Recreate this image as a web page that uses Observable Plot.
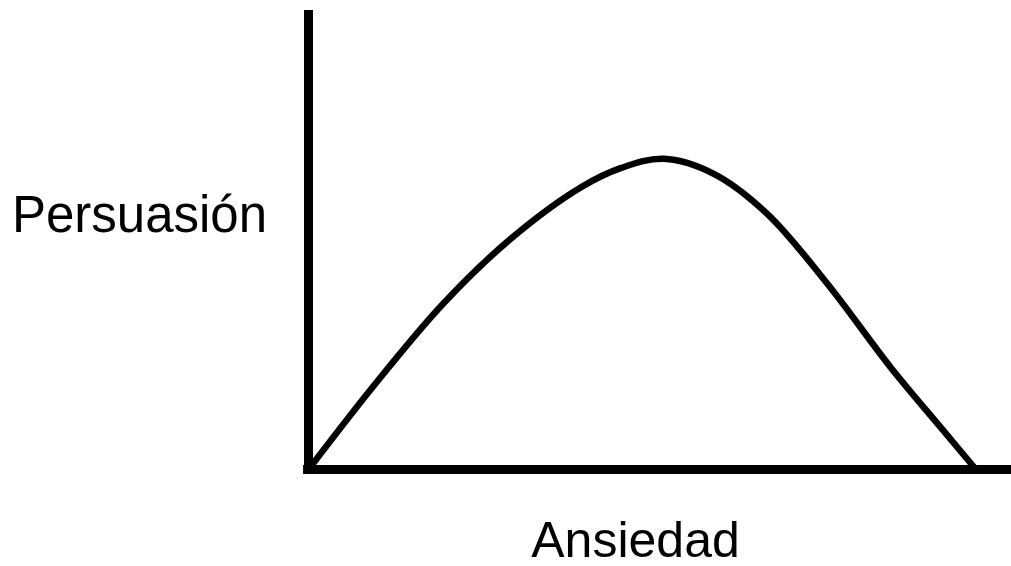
<!DOCTYPE html>
<html>
<head>
<meta charset="utf-8">
<script src="https://cdn.jsdelivr.net/npm/d3@7"></script>
<script src="https://cdn.jsdelivr.net/npm/@observablehq/plot@0.6"></script>
<style>
  html, body { margin: 0; padding: 0; background: #fff; }
  #chart svg { display: block; }
</style>
</head>
<body>
<div id="chart"></div>
<script>
// Ansiedad (x) vs Persuasión (y), 0–100 scale
const ansiedad = [0, 9.77, 19.25, 28.73, 38.71, 44.5, 50.54, 57.65, 65.25, 73.78, 82.79, 89.90, 94.59];
const persuasion = [0, 19.17, 36.27, 50.22, 61.44, 65.7, 67.69, 64.42, 55.71, 40.52, 22.29, 9.22, 0.65];
const xLabel = "Ansiedad";
const yLabel = "Persuasión";

const curve = ansiedad.map((a, i) => ({ansiedad: a, persuasion: persuasion[i]}));

const chart = Plot.plot({
  width: 1011,
  height: 566,
  marginLeft: 308,
  marginRight: 0,
  marginTop: 10,
  marginBottom: 97,
  style: {fontFamily: "'Liberation Sans', Arial, sans-serif", background: "#fff"},
  x: {domain: [0, 100], axis: null},
  y: {domain: [0, 100], axis: null},
  marks: [
    Plot.ruleX([0], {y1: -1.1, y2: 100, stroke: "#000", strokeWidth: 9}),
    Plot.ruleY([0], {x1: -0.7, x2: 100, stroke: "#000", strokeWidth: 9}),
    Plot.line(curve, {x: "ansiedad", y: "persuasion", curve: "catmull-rom", stroke: "#000", strokeWidth: 6.5, strokeLinejoin: "round", strokeLinecap: "round"}),
    Plot.text([yLabel], {text: d => d, frameAnchor: "left", dx: -169, dy: -24, fontSize: 51, letterSpacing: -2.2, textAnchor: "middle", lineAnchor: "middle", fill: "#000"}),
    Plot.text([xLabel], {text: d => d, frameAnchor: "bottom", dx: -24.5, dy: 71, fontSize: 50, textAnchor: "middle", lineAnchor: "middle", fill: "#000"})
  ]
});
document.getElementById("chart").appendChild(chart);
</script>
</body>
</html>
